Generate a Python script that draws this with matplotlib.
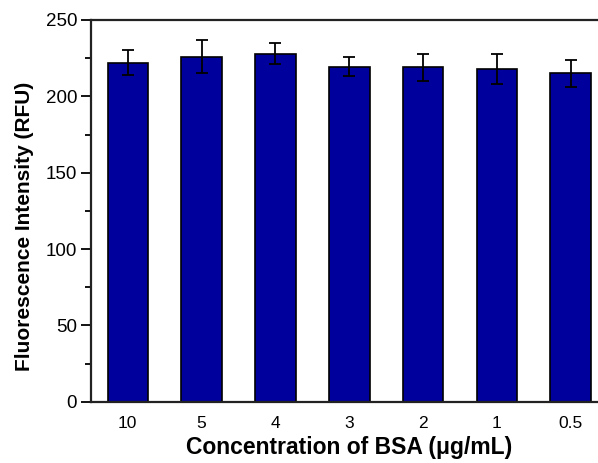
import numpy as np
import matplotlib.pyplot as plt

plt.rcParams['font.family'] = ['Liberation Sans', 'DejaVu Sans']

# dados
conc = ['10', '5', '4', '3', '2', '1', '0.5']
intens = [222, 226, 228, 219.5, 219, 218, 215]
erro = [8, 11, 7, 6.5, 9, 10, 9]

fig = plt.figure(figsize=(5.98, 4.63), dpi=100)
ax = fig.add_axes([0.152, 0.132, 0.864, 0.825])

x = np.arange(len(conc))
ax.bar(x, intens, width=0.55, color='#00009C', edgecolor='black', linewidth=1.2,
       yerr=erro, capsize=4, error_kw=dict(elinewidth=1.3, capthick=1.3, ecolor='black'))

ax.set_xlim(-0.5, 6.5)
ax.set_ylim(0, 250)
ax.set_yticks([0, 50, 100, 150, 200, 250])
ax.set_yticks(np.arange(25, 250, 50), minor=True)
ax.set_xticks(x)
ax.set_xticklabels(conc)

ax.tick_params(axis='y', which='major', direction='out', length=7, width=1.3, labelsize=13.5, pad=3)
ax.tick_params(axis='y', which='minor', direction='out', length=4, width=1.3)
ax.tick_params(axis='x', length=0, labelsize=12.5, pad=10)

for s in ax.spines.values():
    s.set_linewidth(1.6)
    s.set_color('#222222')

ax.set_ylabel('Fluorescence Intensity (RFU)', fontsize=15, fontweight='bold')
ax.yaxis.set_label_coords(-0.11, 0.46)
ax.set_xlabel('Concentration of BSA (\u03bcg/mL)', fontsize=16.5, fontweight='bold', labelpad=4)

plt.savefig('out.png', dpi=100)
